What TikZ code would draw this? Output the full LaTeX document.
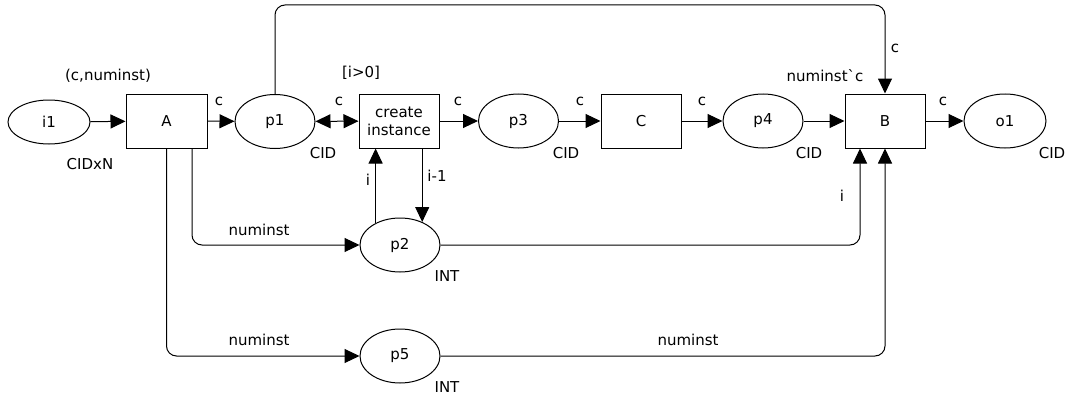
\documentclass[tikz,border=0pt]{standalone}
\usepackage{fontspec}
\setmainfont{DejaVu Sans}
\usetikzlibrary{arrows.meta,calc,shapes.geometric}
\tikzset{
  place/.style={draw, ellipse, line width=1pt, inner sep=0pt, minimum width=80pt, minimum height=54pt},
  trans/.style={draw, rectangle, line width=1pt, inner sep=0pt, minimum width=80pt, minimum height=54pt},
  arr/.style={line width=1pt, -{Triangle[length=15pt,width=14pt]}},
  darr/.style={line width=1pt, {Triangle[length=15pt,width=14pt]}-{Triangle[length=15pt,width=14pt]}},
  lbl/.style={inner sep=0pt, anchor=center},
}
\begin{document}
\begin{tikzpicture}[x=1pt,y=-1pt, font=\fontsize{15}{18}\selectfont]
\useasboundingbox (0,0) rectangle (1068,396);
% nodes
\node[place, minimum width=82pt, minimum height=44pt] (i1) at (49,122) {i1};
\node[trans, minimum width=81pt] (A) at (166.5,121) {A};
\node[place] (p1) at (275,121.5) {p1};
\node[trans, align=center] (ci) at (399,121) {create\\instance};
\node[place] (p3) at (518.5,121) {p3};
\node[trans] (C) at (641,121) {C};
\node[place] (p4) at (763,121) {p4};
\node[trans] (B) at (885,121) {B};
\node[place, minimum width=82pt] (o1) at (1005,121) {o1};
\node[place] (p2) at (400,245) {p2};
\node[place] (p5) at (400,356) {p5};
\coordinate (top) at (0,5);
% labels
\node[lbl] (l1) at (108,76) {(c,numinst)};
\node[lbl] (l2) at (90,164) {CIDxN};
\node[lbl] (l3) at (323,153) {CID};
\node[lbl] (l4) at (361,73) {[i>0]};
\node[lbl] (l5) at (566,153) {CID};
\node[lbl] (l6) at (809,153) {CID};
\node[lbl] (l7) at (1052,153) {CID};
\node[lbl] (l8) at (447,276) {INT};
\node[lbl] (l9) at (447,387) {INT};
\node[lbl] (c1) at (219,101) {c};
\node[lbl] (c2) at (339,101) {c};
\node[lbl] (c3) at (458,101) {c};
\node[lbl] (c4) at (580,101) {c};
\node[lbl] (c5) at (702,101) {c};
\node[lbl] (c6) at (943,101) {c};
\node[lbl] (c7) at (895,48) {c};
\node[lbl] (nc) at (825,76) {numinstˋc};
\node[lbl] (n1) at (259,230) {numinst};
\node[lbl] (n2) at (259,340) {numinst};
\node[lbl] (n3) at (688,340) {numinst};
\node[lbl] (li) at (368,180) {i};
\node[lbl] (lim) at (437,176) {i-1};
\node[lbl] (li2) at (842,196) {i};
% arcs
\draw[arr] (i1) -- (A);
\draw[arr] (A) -- (p1);
\draw[darr] (p1) -- (ci);
\draw[arr] (ci) -- (p3);
\draw[arr] (p3) -- (C);
\draw[arr] (C) -- (p4);
\draw[arr] (p4) -- (B);
\draw[arr] (B) -- (o1);
\draw[arr, rounded corners=10pt] (p1.north) -- (p1.north |- top) -| (B.north);
\draw[arr, rounded corners=10pt] ($(A.south)+(25.5,0)$) |- (p2.west);
\draw[arr, rounded corners=10pt] (A.south) |- (p5.west);
\draw[arr] (p2.138) -- (p2.138 |- ci.south);
\draw[arr] (ci.south -| p2.46) -- (p2.46);
\draw[arr, rounded corners=10pt] (p2.east) -| ($(B.south)+(-25,0)$);
\draw[arr, rounded corners=10pt] (p5.east) -| (B.south);
\end{tikzpicture}
\end{document}
